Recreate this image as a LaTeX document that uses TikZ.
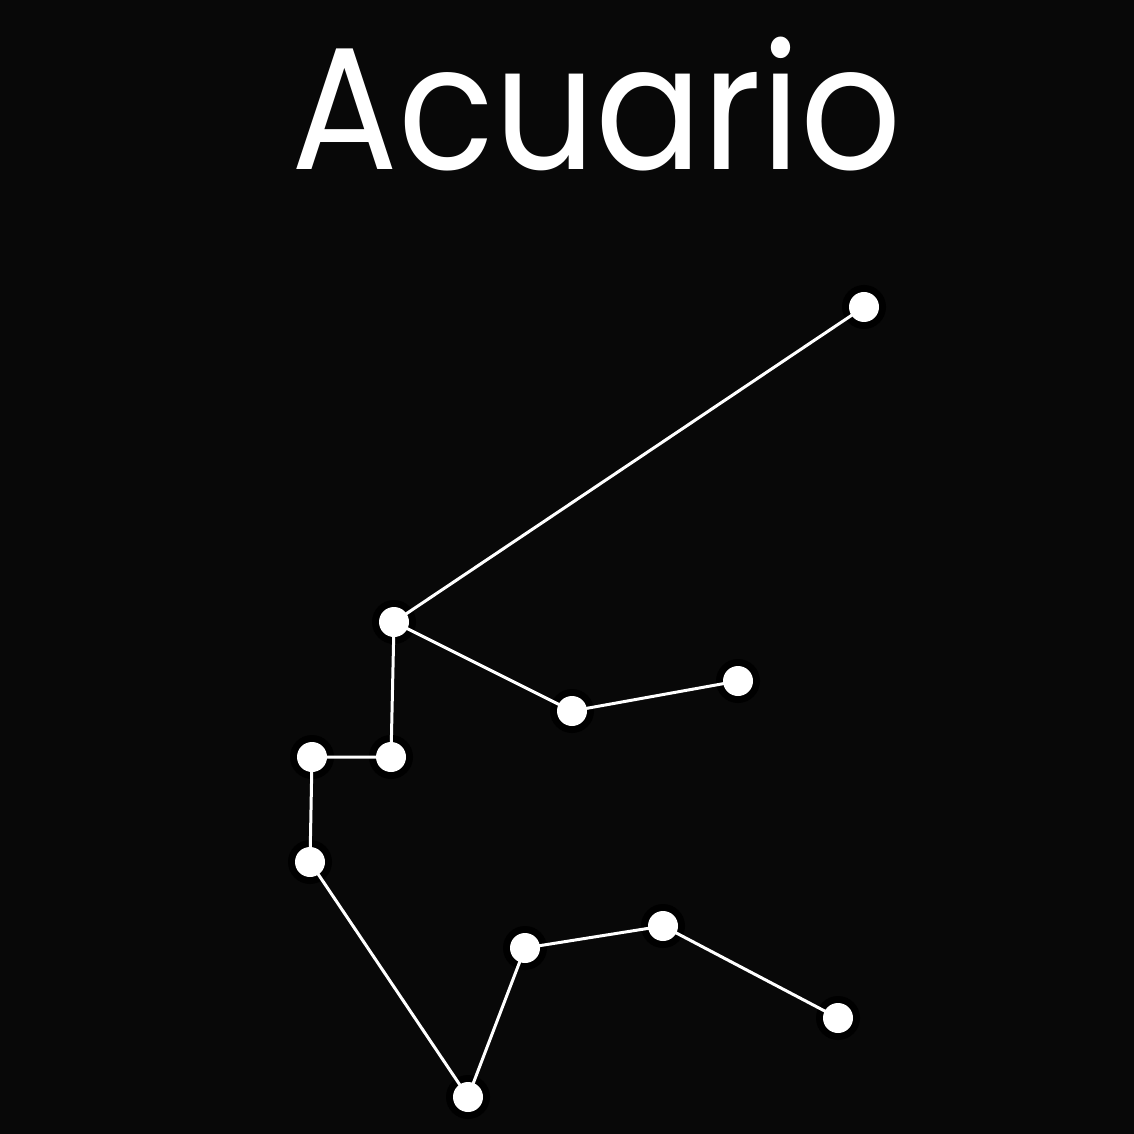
\documentclass[tikz,border=0pt]{standalone}
\usepackage{fontspec}
\newfontfamily\titlefont{Poppins}
\definecolor{bg}{HTML}{080808}
\begin{document}
\begin{tikzpicture}[x=0.01cm,y=-0.01cm,
  link/.style={white,line width=0.03cm},
  starfill/.style={white}]
\fill[bg] (0,0) rectangle (1134,1134);
\useasboundingbox (0,0) rectangle (1134,1134);
\foreach \n/\x/\y in {A/864/307,B/394/622,C/572/711,D/738/681,E/312/757,F/391/757,G/310/862,H/468/1097,I/525/948,J/663/926,K/838/1018}{
  \coordinate (\n) at (\x,\y);
  \fill[black] (\n) circle (22);
}
\draw[link] (A) -- (B) -- (C) -- (D);
\draw[link] (B) -- (F) -- (E) -- (G) -- (H) -- (I) -- (J) -- (K);
\foreach \n in {A,B,C,D,E,F,G,H,I,J,K}{
  \fill[starfill] (\n) circle (15);
}
\node[white,anchor=base,inner sep=0pt,yscale=1.1,font=\titlefont\fontsize{45}{54}\selectfont] (title) at (597,170) {Acuario};
\end{tikzpicture}
\end{document}
